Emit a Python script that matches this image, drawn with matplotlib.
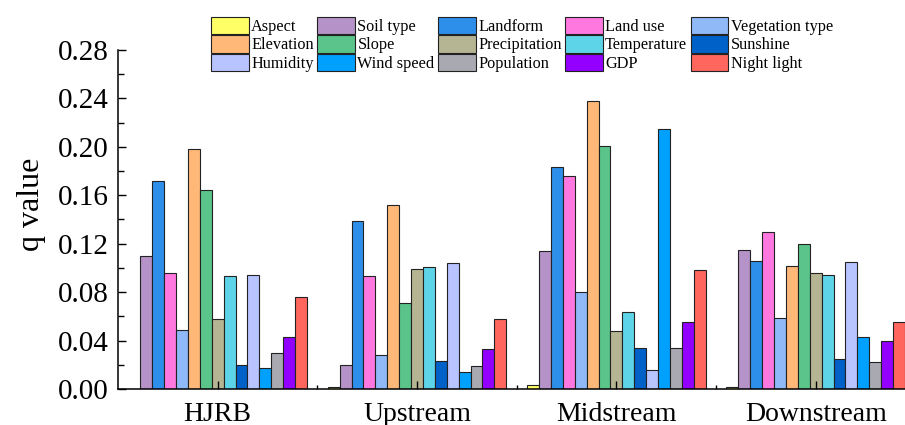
import numpy as np
import matplotlib
matplotlib.use("Agg")
import matplotlib.pyplot as plt
from matplotlib.patches import Patch
from matplotlib.ticker import MultipleLocator, FormatStrFormatter

plt.rcParams["font.family"] = ["Liberation Serif", "DejaVu Serif"]

regions = ["HJRB", "Upstream", "Midstream", "Downstream"]

factors = ["Aspect", "Soil type", "Landform", "Land use", "Vegetation type",
           "Elevation", "Slope", "Precipitation", "Temperature", "Sunshine",
           "Humidity", "Wind speed", "Population", "GDP", "Night light"]

colors = ["#FFFF66", "#B592C7", "#2E8FEA", "#FF78E0", "#90B9F8",
          "#FFB878", "#5BC48A", "#B5B594", "#5ED4E8", "#0062C8",
          "#B8C4FF", "#00A0FF", "#A9A9B1", "#9400FF", "#FF665E"]

# q value of every factor, one list per region (same order as `factors`)
q_hjrb = [0.000, 0.110, 0.172, 0.096, 0.049, 0.198, 0.164, 0.058,
          0.093, 0.020, 0.094, 0.017, 0.030, 0.043, 0.076]
q_up = [0.0015, 0.020, 0.139, 0.093, 0.028, 0.152, 0.071, 0.099,
        0.101, 0.023, 0.104, 0.014, 0.019, 0.033, 0.058]
q_mid = [0.003, 0.114, 0.183, 0.176, 0.080, 0.238, 0.201, 0.048,
         0.064, 0.034, 0.016, 0.215, 0.034, 0.055, 0.098]
q_down = [0.0015, 0.115, 0.106, 0.130, 0.059, 0.102, 0.120, 0.096,
          0.094, 0.025, 0.105, 0.043, 0.022, 0.040, 0.055]

q = np.array([q_hjrb, q_up, q_mid, q_down])

fig = plt.figure(figsize=(9.05, 4.25), dpi=100)
ax = fig.add_axes([0.1304, 0.0847, 0.8696, 0.7977])

n = len(factors)
w = 0.0597
x = np.arange(len(regions))
for i, (name, c) in enumerate(zip(factors, colors)):
    ax.bar(x + (i - (n - 1) / 2) * w, q[:, i], width=w, color=c,
           edgecolor="#222222", linewidth=0.8, label=name)

ax.set_xlim(-0.5, x[-1] + n / 2 * w)
ax.set_ylim(0, 0.28)
ax.yaxis.set_major_locator(MultipleLocator(0.04))
ax.yaxis.set_minor_locator(MultipleLocator(0.02))
ax.yaxis.set_major_formatter(FormatStrFormatter("%.2f"))
ax.set_xticks(x)
ax.set_xticklabels(regions)
ax.set_xticks(x[:-1] + 0.5, minor=True)

for s in ["top", "right"]:
    ax.spines[s].set_visible(False)
for s in ["left", "bottom"]:
    ax.spines[s].set_linewidth(1.1)

ax.tick_params(axis="both", which="major", direction="in", length=6, width=1.0)
ax.tick_params(axis="y", which="major", labelsize=21, pad=7)
ax.tick_params(axis="x", which="major", labelsize=20, pad=9)
ax.tick_params(axis="y", which="minor", direction="in", length=4, width=1.0)
ax.tick_params(axis="x", which="minor", direction="in", length=3, width=1.0)
ax.set_ylabel("q value", fontsize=23)
ax.yaxis.set_label_coords(-0.092, 0.545)

# legend filled row by row, 5 columns
handles = [Patch(facecolor=c, edgecolor="#222222", linewidth=0.8) for c in colors]
order = [r * 5 + c for c in range(5) for r in range(3)]
fig.legend([handles[k] for k in order], [factors[k] for k in order],
           ncol=5, loc="upper left", bbox_to_anchor=(211 / 905, 1 - 17 / 425),
           frameon=False, fontsize=11.7, handlelength=2.33, handleheight=1.25,
           handletextpad=0.15, columnspacing=0.2, labelspacing=0.02,
           borderpad=0, borderaxespad=0)

fig.savefig("out.png", dpi=100)
